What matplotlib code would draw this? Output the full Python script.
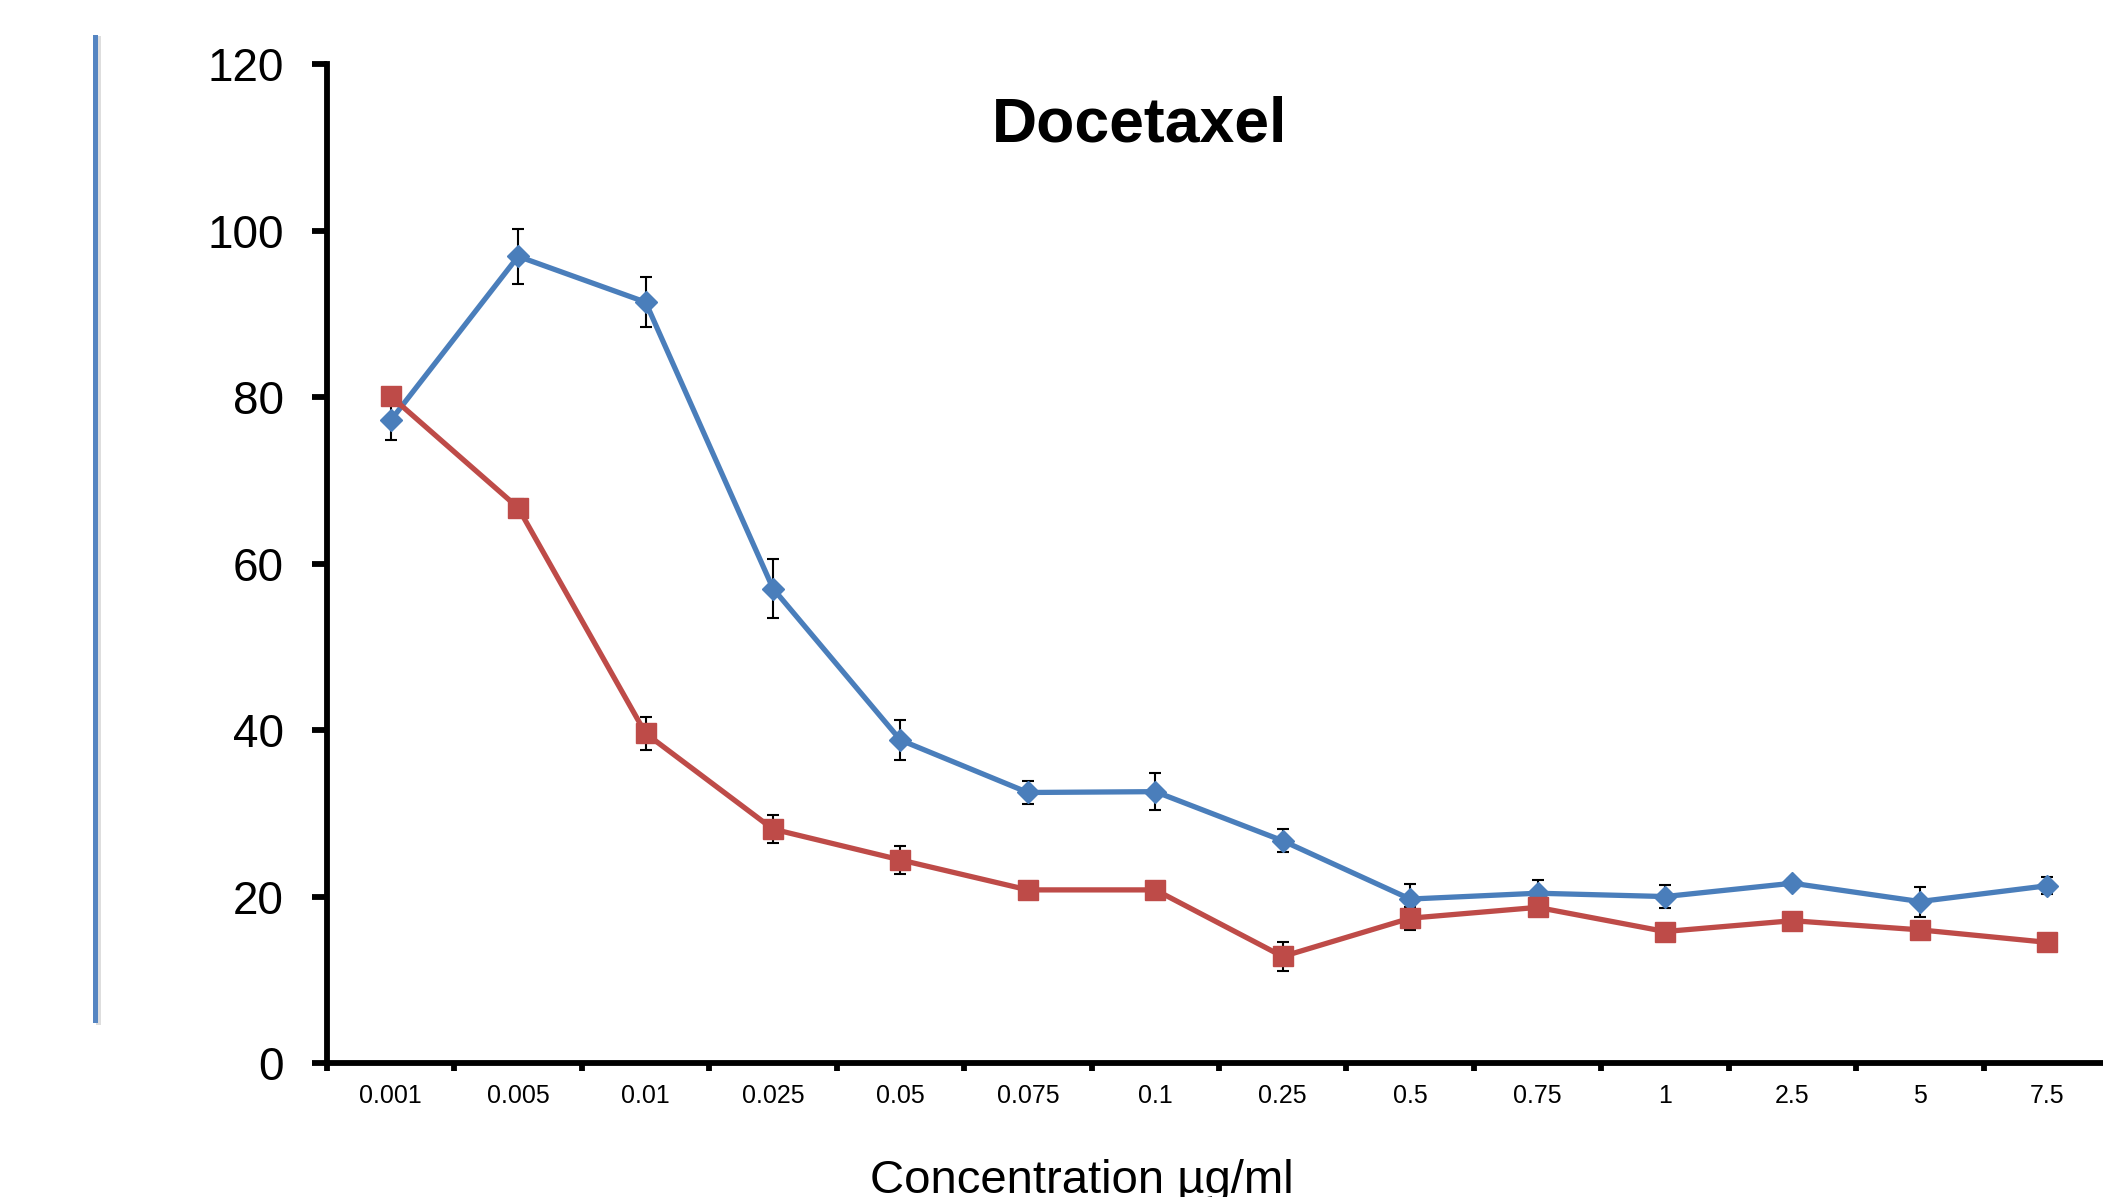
import numpy as np
import matplotlib.pyplot as plt
from matplotlib.lines import Line2D

plt.rcParams['font.family'] = ['Liberation Sans', 'DejaVu Sans']

# concentrations (ug/ml), plotted as evenly spaced categories
conc_labels = ['0.001', '0.005', '0.01', '0.025', '0.05', '0.075', '0.1',
               '0.25', '0.5', '0.75', '1', '2.5', '5', '7.5']

blue_mean = [77.2, 96.9, 91.4, 57.0, 38.8, 32.5, 32.6, 26.7, 19.7, 20.4, 20.0, 21.6, 19.4, 21.3]
blue_err = [2.4, 3.3, 3.0, 3.5, 2.4, 1.4, 2.2, 1.4, 1.8, 1.6, 1.4, 0.5, 1.8, 1.0]

red_mean = [80.1, 66.7, 39.6, 28.1, 24.4, 20.8, 20.8, 12.8, 17.4, 18.7, 15.8, 17.1, 16.0, 14.5]
red_err = [1.0, 1.1, 2.0, 1.7, 1.7, 0.8, 0.8, 1.8, 1.4, 0.9, 0.6, 0.7, 0.6, 0.5]

yticks = [0, 20, 40, 60, 80, 100, 120]

BLUE = '#4A7EBB'
RED = '#BE4B48'

fig = plt.figure(figsize=(21.03, 11.97), dpi=100)
ax = fig.add_axes([0.1555, 0.1119, 0.8483, 0.8346])
ax.patch.set_alpha(0)

x = np.arange(len(conc_labels))

ax.errorbar(x, blue_mean, yerr=blue_err, fmt='none', ecolor='black',
            elinewidth=1.5, capsize=4.5, capthick=1.5, zorder=2)
ax.errorbar(x, red_mean, yerr=red_err, fmt='none', ecolor='black',
            elinewidth=1.5, capsize=4.5, capthick=1.5, zorder=2)

ax.plot(x, blue_mean, color=BLUE, lw=3.8, marker='D', ms=11.5,
        mfc=BLUE, mec=BLUE, zorder=3)
ax.plot(x, red_mean, color=RED, lw=3.8, marker='s', ms=14.5,
        mfc=RED, mec=RED, zorder=3)

ax.set_xlim(-0.5, 13.5)
ax.set_ylim(0, 120)

for side in ['top', 'right']:
    ax.spines[side].set_visible(False)
for side in ['left', 'bottom']:
    ax.spines[side].set_linewidth(4.2)

ax.set_yticks(yticks)
ax.set_yticklabels([str(v) for v in yticks])
ax.tick_params(axis='y', direction='out', length=11, width=4.2,
               labelsize=33, pad=20)

# category boundaries carry the tick marks, labels sit at the centres
ax.set_xticks(np.arange(-0.5, 13.6, 1.0))
ax.set_xticklabels([])
ax.tick_params(axis='x', which='major', direction='out', length=6, width=4.2)
ax.set_xticks(x, minor=True)
ax.set_xticklabels(conc_labels, minor=True)
ax.tick_params(axis='x', which='minor', length=0, labelsize=18, pad=15)

fig.text(0.542, 0.882, 'Docetaxel', fontsize=45, fontweight='bold',
         ha='center', va='baseline')
fig.text(0.5145, 0.003, 'Concentration \u00b5g/ml', fontsize=34,
         ha='center', va='baseline')

# vertical bar at the left edge, with a faint shadow
fig.add_artist(Line2D([0.0468, 0.0468], [0.1465, 0.968], transform=fig.transFigure,
                      color='#c8c8c8', lw=3.6, alpha=0.6))
fig.add_artist(Line2D([0.0453, 0.0453], [0.1475, 0.969], transform=fig.transFigure,
                      color='#5585C2', lw=3.6))

fig.savefig('out.png', dpi=100, facecolor='white')
